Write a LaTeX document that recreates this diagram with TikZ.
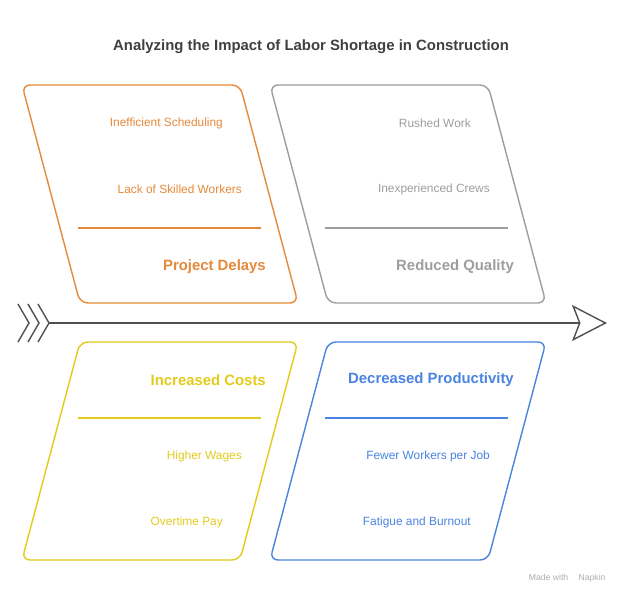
\documentclass[tikz,border=0pt]{standalone}
\usepackage{fontspec}
\setmainfont{Liberation Sans}
\usetikzlibrary{arrows.meta}
\definecolor{ttl}{HTML}{404040}
\definecolor{spine}{HTML}{505050}
\definecolor{orng}{HTML}{E58A3A}
\definecolor{gry}{HTML}{9E9E9E}
\definecolor{yelw}{HTML}{E3CB1C}
\definecolor{blu}{HTML}{4A84E0}
\tikzset{frame/.style={rounded corners=8pt,line width=1.4pt},rule/.style={line width=1.2pt},
item/.style={anchor=east,font=\fontsize{11.9}{13}\selectfont,inner sep=0pt},
effect/.style={anchor=east,font=\fontsize{14.9}{16}\selectfont\bfseries,inner sep=0pt},
chev/.style={draw=spine,line width=1.4pt}}

\begin{document}
\begin{tikzpicture}[x=1pt,y=-1pt]
\useasboundingbox[fill=white] (0,0) rectangle (626,600);
\node[font=\fontsize{14.9}{17}\selectfont\bfseries,text=ttl] (title) at (311,47){Analyzing the Impact of Labor Shortage in Construction};
% upper boxes
\draw[frame,draw=orng](22,85)--(240,85)--(298,303)--(80,303)--cycle;\draw[rule,orng](78,228)--(261,228);
\node[item,text=orng] (i1) at (223,123){Inefficient Scheduling};\node[item,text=orng] (i2) at (242,189){Lack of Skilled Workers};
\node[effect,text=orng] (e1) at (266,267){Project Delays};
\draw[frame,draw=gry](270,85)--(488,85)--(546,303)--(328,303)--cycle;\draw[rule,gry](325,228)--(508,228);
\node[item,text=gry] (i3) at (471,123){Rushed Work};\node[item,text=gry] (i4) at (490,189){Inexperienced Crews};
\node[effect,text=gry] (e2) at (514,267){Reduced Quality};
% lower boxes
\draw[frame,draw=yelw](80,342)--(298,342)--(240,560)--(22,560)--cycle;\draw[rule,yelw](78,418)--(261,418);
\node[effect,text=yelw] (e3) at (266,380){Increased Costs};
\node[item,text=yelw] (i5) at (242,456){Higher Wages};\node[item,text=yelw] (i6) at (223,522){Overtime Pay};
\draw[frame,draw=blu](328,342)--(546,342)--(488,560)--(270,560)--cycle;\draw[rule,blu](325,418)--(508,418);
\node[effect,text=blu] (e4) at (514,380){Decreased Productivity};
\node[item,text=blu] (i7) at (490,456){Fewer Workers per Job};\node[item,text=blu] (i8) at (471,522){Fatigue and Burnout};
% spine
\coordinate (tail) at (48,323);\coordinate (head) at (607,323);
\foreach \dx in {0,10,20}{\draw[chev](18+\dx,304)--(29+\dx,323)--(18+\dx,342);}
\draw[chev,-{Stealth[open,length=35pt,width=36pt,inset=7pt]}](tail)--(head);
\node[anchor=east,font=\fontsize{8.6}{10}\selectfont,text=gry!85] (mark) at (609,578){Made with \,\,\,\, Napkin};
\end{tikzpicture}
\end{document}
